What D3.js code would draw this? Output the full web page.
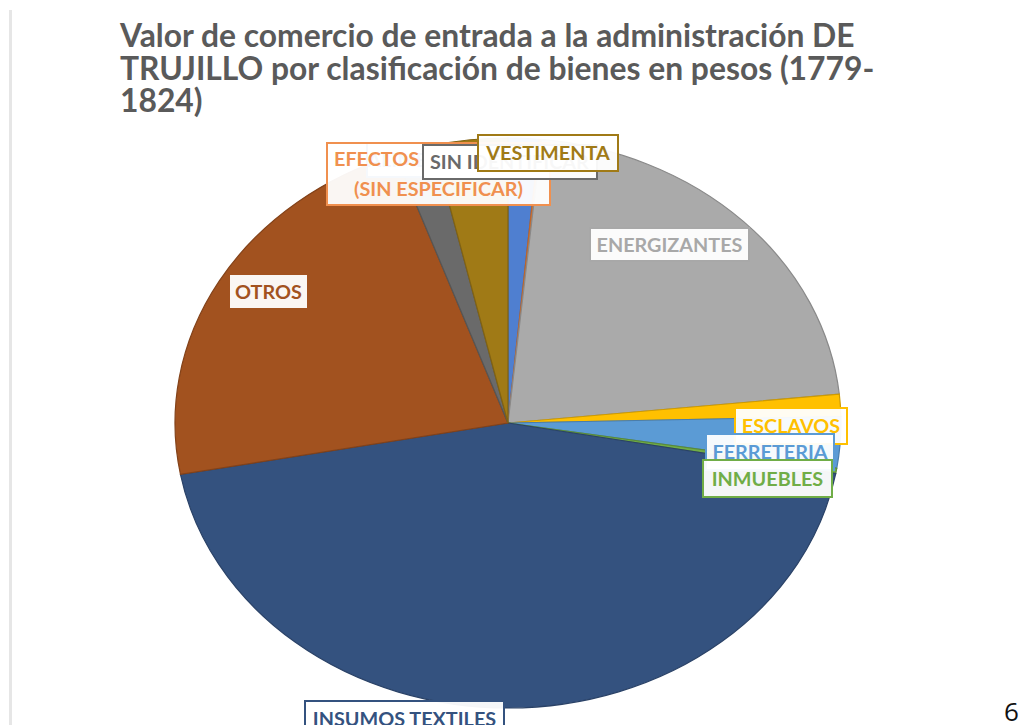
<!DOCTYPE html>
<html>
<head>
<meta charset="utf-8">
<script src="https://cdn.jsdelivr.net/npm/d3@7"></script>
<style>
  html, body { margin: 0; padding: 0; background: #fff; }
  svg { display: block; }
</style>
</head>
<body>
<svg id="chart" width="1028" height="725"></svg>
<script>
// ---- data (% of total value) ----
const categories = [
  "ALIMENTOS",
  "EFECTOS (SIN ESPECIFICAR)",
  "ENERGIZANTES",
  "ESCLAVOS",
  "FERRETERIA",
  "INMUEBLES",
  "INSUMOS TEXTILES",
  "OTROS",
  "SIN IDENTIFICAR",
  "VESTIMENTA"
];
const values = [1.5, 0.1, 21.8, 1.25, 2.9, 0.3, 44.3, 22.4, 1.9, 3.6];
const titleLines = [
  "Valor de comercio de entrada a la administración DE",
  "TRUJILLO por clasificación de bienes en pesos (1779-",
  "1824)"
];

// ---- styles ----
const sliceColors = ["#4f7fd0", "#ed7d31", "#aaaaaa", "#ffc000", "#5b9bd5", "#70ad47",
                     "#34527f", "#a2521f", "#6a6a6a", "#a07a16"];
const textColors  = ["#4472c4", "#f0904f", "#a8a8a8", "#ffc000", "#5b9bd5", "#70ad47",
                     "#34527f", "#a2521f", "#6a6a6a", "#a07a16"];
// label boxes: centre x, centre y, width, height (layout of the reference)
const labelLayout = [
  {cx: 424, cy: 160, w: 114, h: 34},
  {cx: 438.5, cy: 174, w: 223, h: 62, lines: ["EFECTOS", "(SIN ESPECIFICAR)"], anchors: ["start", "middle"]},
  {cx: 669.5, cy: 244.5, w: 159, h: 33},
  {cx: 791, cy: 426, w: 112, h: 36},
  {cx: 770, cy: 452, w: 128, h: 36},
  {cx: 767.5, cy: 478.5, w: 129, h: 37},
  {cx: 404.5, cy: 719, w: 199, h: 36},
  {cx: 268.5, cy: 291.5, w: 79, h: 35},
  {cx: 510, cy: 162, w: 174, h: 34, anchor: "start"},
  {cx: 548, cy: 153, w: 140, h: 36}
];

const svg = d3.select("#chart");

// page side line
svg.append("rect").attr("x", 9).attr("y", 10).attr("width", 3).attr("height", 715)
   .attr("fill", "#e6e6e6");

// title
const fontFam = "Lato, 'Open Sans', sans-serif";
const title = svg.append("g");
const t0 = title.append("text").attr("font-family", fontFam).attr("font-weight", 700)
   .attr("font-size", 24).text(titleLines[0]);
const tfs = 24 * 735 / t0.node().getComputedTextLength();
t0.remove();
titleLines.forEach((s, i) => {
  title.append("text")
    .attr("x", 120).attr("y", 47 + i * 32.5)
    .attr("font-family", fontFam).attr("font-weight", 700)
    .attr("font-size", tfs).attr("fill", "#5a5a5a")
    .text(s);
});

// pie (Excel-like stretched circle)
const cx = 508, cy = 423, rx = 333, ry = 285;
const pie = d3.pie().sort(null).value(d => d.v).startAngle(0).endAngle(2 * Math.PI);
const data = categories.map((c, i) => ({c, v: values[i], i}));
const arcs = pie(data);
const arc = d3.arc().innerRadius(0).outerRadius(ry);

const pg = svg.append("g")
  .attr("transform", `translate(${cx},${cy}) scale(${rx / ry},1)`);
pg.selectAll("path").data(arcs).join("path")
  .attr("d", arc)
  .attr("fill", d => sliceColors[d.data.i])
  .attr("stroke", d => d3.color(sliceColors[d.data.i]).darker(0.6))
  .attr("stroke-width", 1.2)
  .attr("vector-effect", "non-scaling-stroke");

// labels
const lfsProbe = svg.append("text").attr("font-family", fontFam).attr("font-weight", 700)
   .attr("font-size", 15).text("ENERGIZANTES");
const lfs = 15 * 146 / lfsProbe.node().getComputedTextLength();
lfsProbe.remove();

const lg = svg.append("g");
arcs.forEach(a => {
  const i = a.data.i;
  const L = labelLayout[i];
  const g = lg.append("g");
  g.append("rect")
    .attr("x", L.cx - L.w / 2).attr("y", L.cy - L.h / 2)
    .attr("width", L.w).attr("height", L.h)
    .attr("fill", "#ffffff").attr("fill-opacity", 0.95)
    .attr("stroke", textColors[i]).attr("stroke-width", 2);
  const lines = L.lines || [a.data.c];
  const lh = lfs * 1.5;
  lines.forEach((s, k) => {
    const anchor = (L.anchors && L.anchors[k]) || L.anchor || "middle";
    const x = anchor === "start" ? L.cx - L.w / 2 + 7 : L.cx;
    const y = L.cy + (k - (lines.length - 1) / 2) * lh;
    g.append("text")
      .attr("x", x).attr("y", y)
      .attr("dy", "0.36em")
      .attr("text-anchor", anchor)
      .attr("font-family", fontFam).attr("font-weight", 700)
      .attr("font-size", lfs)
      .attr("fill", textColors[i])
      .text(s);
  });
});

// page number
svg.append("text").attr("x", 1004).attr("y", 721)
  .attr("font-family", "'Open Sans', Lato, sans-serif").attr("font-size", 26)
  .attr("fill", "#111").text("6");
</script>
</body>
</html>
